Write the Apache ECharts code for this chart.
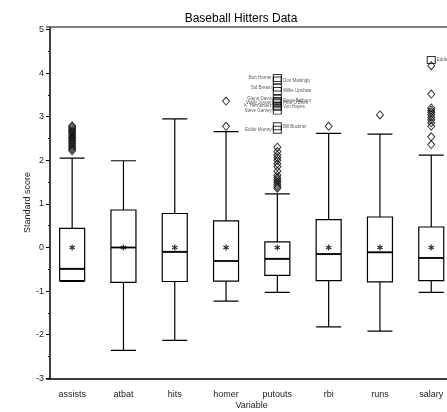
<!DOCTYPE html>
<html>
<head>
<meta charset="utf-8">
<script src="https://cdn.jsdelivr.net/npm/echarts@6/dist/echarts.min.js"></script>
<style>
  html, body { margin: 0; padding: 0; background: #fff; }
  #chart { width: 447px; height: 412px; }
</style>
</head>
<body>
<div id="chart"></div>
<script>
// variables on the x axis
const variables = ["assists", "atbat", "hits", "homer", "putouts", "rbi", "runs", "salary"]
// box stats per variable: [low whisker, Q1, median, Q3, high whisker]
const lowWhisker = [-0.78, -2.36, -2.13, -1.23, -1.03, -1.82, -1.92, -1.03]
const q1 = [-0.76, -0.80, -0.78, -0.77, -0.64, -0.76, -0.79, -0.76]
const median = [-0.49, 0.0, -0.10, -0.31, -0.26, -0.15, -0.11, -0.24]
const q3 = [0.44, 0.86, 0.78, 0.61, 0.13, 0.64, 0.70, 0.47]
const highWhisker = [2.05, 1.99, 2.95, 2.66, 1.23, 2.62, 2.60, 2.12]
const means = [0, 0, 0, 0, 0, 0, 0, 0]

// outliers (diamonds)
const assistsOut = [2.22, 2.26, 2.3, 2.34, 2.38, 2.42, 2.46, 2.5, 2.53, 2.57, 2.61, 2.65, 2.68, 2.72, 2.76, 2.79]
const homerOut = [2.78, 3.36]
const putoutsOut = [1.36, 1.4, 1.45, 1.5, 1.55, 1.6, 1.66, 1.75, 1.85, 1.92, 2.0, 2.06, 2.12, 2.2, 2.3]
const rbiOut = [2.78]
const runsOut = [3.04]
const salaryOut = [2.36, 2.54, 2.78, 2.86, 2.93, 2.99, 3.05, 3.1, 3.15, 3.2, 3.52, 4.17]

// far outliers (squares, labelled)
const farVar = ["putouts", "putouts", "putouts", "putouts", "putouts", "putouts", "putouts", "putouts", "putouts", "putouts", "putouts", "putouts", "putouts", "salary"]
const farValue = [3.89, 3.83, 3.67, 3.59, 3.41, 3.36, 3.33, 3.31, 3.25, 3.23, 3.14, 2.70, 2.78, 4.30]
const farName = ["Bob Horner", "Don Mattingly", "Sid Bream", "Willie Upshaw", "Glenn Davis", "Steve Balboni", "Wally Joyner", "Pete O'Brien", "K. Hernandez", "Von Hayes", "Steve Garvey", "Eddie Murray", "Bill Buckner", "Eddie Murray"]
const labelSide = ["left", "right", "left", "right", "left", "right", "left", "right", "left", "right", "left", "left", "right", "right"]

const yTicks = [-3, -2, -1, 0, 1, 2, 3, 4, 5]

const outliers = []
const addOut = (name, arr) => arr.forEach((v) => outliers.push([name, v]))
addOut("assists", assistsOut)
addOut("homer", homerOut)
addOut("putouts", putoutsOut)
addOut("rbi", rbiOut)
addOut("runs", runsOut)
addOut("salary", salaryOut)

const boxData = variables.map((v, i) => [lowWhisker[i], q1[i], median[i], q3[i], highWhisker[i]])

const asterisk = "path://M-0.8,-4L0.8,-4L0.8,4L-0.8,4Z M3.064,-2.69L3.864,-1.31L-3.064,2.69L-3.864,1.31Z M-3.864,-1.31L-3.064,-2.69L3.864,1.31L3.064,2.69Z"

const font = "Liberation Sans, Arial, sans-serif"
const chart = echarts.init(document.getElementById("chart"))
chart.setOption({
  animation: false,
  title: {
    text: "Baseball Hitters Data",
    left: 236,
    textAlign: "center",
    top: 8,
    textStyle: { fontFamily: font, fontSize: 12, fontWeight: "normal", color: "#000" },
  },
  grid: { left: 46.5, top: 26.9, width: 410.4, height: 351.4, outerBoundsMode: "none", containLabel: false },
  xAxis: [
    {
      type: "category",
      data: variables,
      boundaryGap: true,
      name: "Variable",
      nameLocation: "middle",
      nameGap: 23,
      nameMoveOverlap: false,
      nameTextStyle: { fontFamily: font, fontSize: 9, color: "#222", verticalAlign: "top" },
      axisLine: { onZero: false, lineStyle: { color: "#000", width: 1.5 } },
      axisTick: { alignWithLabel: true, length: 4, lineStyle: { color: "#000" } },
      axisLabel: { fontFamily: font, fontSize: 9, color: "#222", margin: 12 },
    },
    {
      type: "category",
      data: variables,
      position: "top",
      axisLine: { onZero: false, lineStyle: { color: "#555", width: 1.5 } },
      axisTick: { show: false },
      axisLabel: { show: false },
    },
  ],
  yAxis: {
    type: "value",
    min: -3,
    max: 5.06,
    interval: 1,
    offset: -3.5,
    name: "Standard score",
    nameLocation: "middle",
    nameGap: 18,
    nameMoveOverlap: false,
    nameTextStyle: { fontFamily: font, fontSize: 9, color: "#222" },
    splitLine: { show: false },
    axisLine: { show: true, lineStyle: { color: "#000", width: 1.5 } },
    axisTick: { show: true, length: 4, customValues: yTicks, lineStyle: { color: "#000" } },
    minorTick: { show: true, splitNumber: 2, length: 2, lineStyle: { color: "#000" } },
    axisLabel: { fontFamily: font, fontSize: 9, color: "#222", margin: 6, customValues: yTicks },
  },
  series: [
    {
      type: "boxplot",
      data: boxData,
      boxWidth: [25, 25],
      itemStyle: { color: "#fff", borderColor: "#000", borderWidth: 1.2 },
      z: 2,
    },
    {
      type: "scatter",
      data: variables.map((v, i) => [v, median[i]]),
      symbol: "rect",
      symbolSize: [25, 2],
      itemStyle: { color: "#000" },
      z: 3,
    },
    {
      type: "scatter",
      data: variables.map((v, i) => [v, means[i]]),
      symbol: asterisk,
      symbolSize: [6, 6],
      itemStyle: { color: "#000" },
      z: 3,
    },
    {
      type: "scatter",
      data: outliers,
      symbol: "diamond",
      symbolSize: [7, 8],
      itemStyle: { color: "rgba(255,255,255,0)", borderColor: "#000", borderWidth: 1 },
      z: 4,
    },
    {
      type: "scatter",
      data: farValue.map((v, i) => ({
        value: [farVar[i], v],
        label: { show: true, position: labelSide[i], formatter: farName[i] },
      })),
      symbol: "rect",
      symbolSize: [8, 7],
      itemStyle: { color: "rgba(255,255,255,0)", borderColor: "#000", borderWidth: 1 },
      label: { fontFamily: font, fontSize: 4.5, color: "#333", distance: 1 },
      labelLayout: { hideOverlap: false },
      z: 5,
    },
  ],
})
</script>
</body>
</html>
